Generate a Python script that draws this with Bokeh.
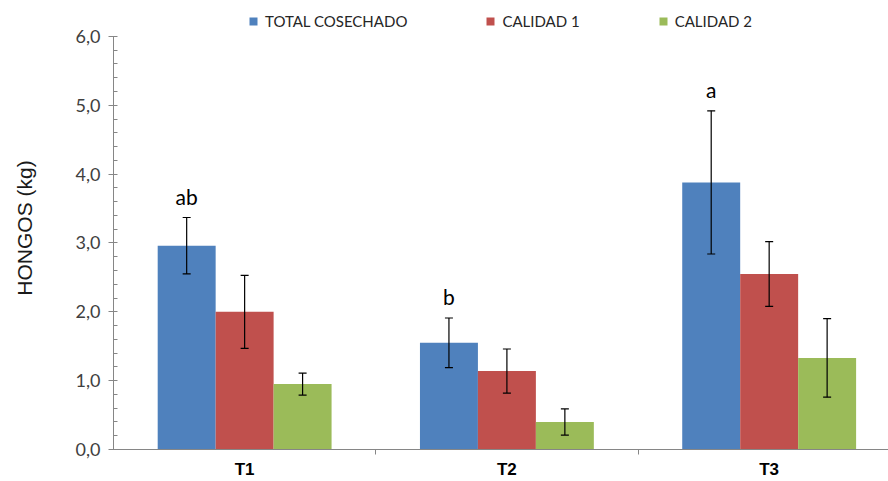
import numpy as np
from bokeh.plotting import figure
from bokeh.models import (ColumnDataSource, Whisker, TeeHead, FixedTicker, Legend, LegendItem, Range1d)
from bokeh.core.properties import value
from bokeh.embed import file_html
from bokeh.resources import INLINE

categories = ["T1", "T2", "T3"]
series = ["TOTAL COSECHADO", "CALIDAD 1", "CALIDAD 2"]
total = [2.96, 1.55, 3.88]
total_err = [0.41, 0.36, 1.04]
cal1 = [2.00, 1.14, 2.55]
cal1_err = [0.53, 0.32, 0.47]
cal2 = [0.95, 0.40, 1.33]
cal2_err = [0.16, 0.19, 0.57]
letters = ["ab", "b", "a"]
y_tick_labels = ["0,0", "1,0", "2,0", "3,0", "4,0", "5,0", "6,0"]

colors = ["#4F81BD", "#C0504D", "#9BBB59"]
bar_w = 0.221
offsets = [-bar_w, 0.0, bar_w]

p = figure(width=888, height=481, output_backend="svg", toolbar_location=None,
           x_range=Range1d(0, 2.955), y_range=Range1d(0, 6.435),
           min_border_left=113, min_border_right=0, min_border_top=6, min_border_bottom=31)
p.outline_line_color = None
p.xgrid.visible = False
p.ygrid.visible = False

centers = np.arange(len(categories)) + 0.5
renderers = []
for vals, errs, col, off in zip([total, cal1, cal2], [total_err, cal1_err, cal2_err], colors, offsets):
    v = np.array(vals)
    e = np.array(errs)
    src = ColumnDataSource(dict(x=centers + off, top=v, upper=v + e, lower=v - e))
    r = p.vbar(x="x", top="top", width=bar_w, source=src, fill_color=col, line_color=None)
    renderers.append(r)
    w = Whisker(base="x", upper="upper", lower="lower", source=src, level="overlay",
                line_color="black", line_width=1.2,
                upper_head=TeeHead(size=8, line_color="black", line_width=1.2),
                lower_head=TeeHead(size=8, line_color="black", line_width=1.2))
    p.add_layout(w)

lsrc = ColumnDataSource(dict(x=centers + offsets[0], y=np.array(total) + np.array(total_err), t=letters))
p.text(x="x", y="y", text="t", source=lsrc, text_align="center", text_baseline="bottom",
       y_offset=-9, text_font=value("Lato"), text_font_size="21px", text_color="black")

# y axis
yax = p.yaxis[0]
yax.bounds = (0, 6)
yax.ticker = FixedTicker(ticks=list(range(7)), minor_ticks=list(np.round(np.arange(0, 6.01, 0.2), 2)))
yax.major_label_overrides = {i: lab for i, lab in enumerate(y_tick_labels)}
yax.axis_line_color = "#868686"
yax.major_tick_line_color = "#868686"
yax.minor_tick_line_color = "#868686"
yax.major_tick_out = 5
yax.major_tick_in = 2
yax.minor_tick_out = 0
yax.minor_tick_in = 4
yax.major_label_standoff = 8
yax.major_label_text_font = "Lato"
yax.major_label_text_font_size = "18px"
yax.major_label_text_color = "#404040"
yax.axis_label = "HONGOS (kg)"
yax.axis_label_text_font = "Liberation Sans"
yax.axis_label_text_font_style = "normal"
yax.axis_label_text_font_size = "21px"
yax.axis_label_text_color = "#1a1a1a"
yax.axis_label_standoff = 37

# x axis
xax = p.xaxis[0]
xax.ticker = FixedTicker(ticks=list(centers), minor_ticks=[1.0, 2.0])
xax.major_label_overrides = {float(c): cat for c, cat in zip(centers, categories)}
xax.axis_line_color = "#868686"
xax.major_tick_line_color = None
xax.major_tick_out = 0
xax.major_tick_in = 0
xax.minor_tick_line_color = "#868686"
xax.minor_tick_out = 5
xax.minor_tick_in = 0
xax.major_label_standoff = 5
xax.major_label_text_font = "Liberation Sans"
xax.major_label_text_font_style = "bold"
xax.major_label_text_font_size = "17px"
xax.major_label_text_color = "black"

legend = Legend(items=[LegendItem(label=s, renderers=[r]) for s, r in zip(series, renderers)],
                orientation="horizontal", location=(135, 418),
                padding=0, margin=0, spacing=78, glyph_width=10, glyph_height=10,
                label_standoff=7, label_height=20,
                label_text_font="Lato", label_text_font_size="15px", label_text_color="#262626",
                background_fill_alpha=0, border_line_color=None)
p.add_layout(legend, "center")

open("out.html", "w").write(file_html(p, INLINE))
